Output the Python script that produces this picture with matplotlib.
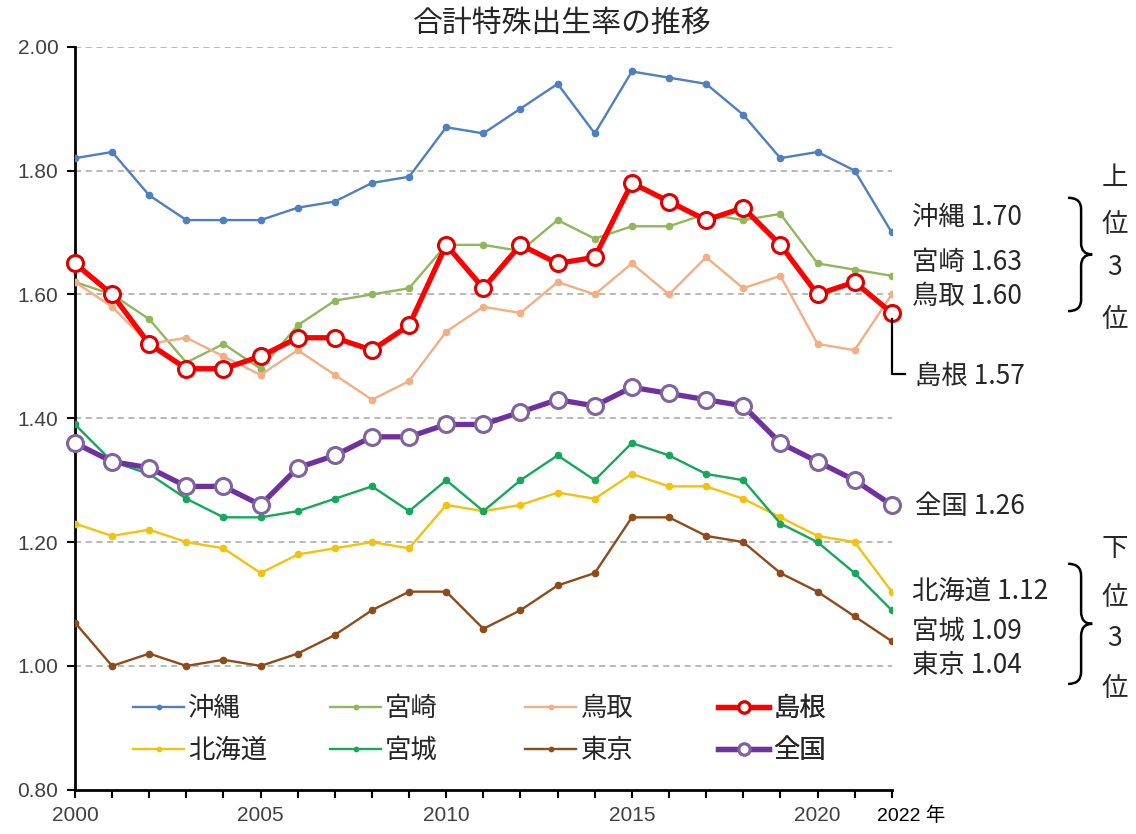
#!/usr/bin/env python3
"""合計特殊出生率の推移 (2000-2022): 上位3県・下位3都道府県・島根・全国"""

import numpy as np
import matplotlib
matplotlib.use("Agg")
import matplotlib.pyplot as plt
from matplotlib.path import Path
from matplotlib.patches import PathPatch

plt.rcParams["font.family"] = ["Noto Sans CJK JP", "DejaVu Sans"]

# --- data ---------------------------------------------------------------------------------------
YEARS = list(range(2000, 2023))

OKINAWA = [1.82, 1.83, 1.76, 1.72, 1.72, 1.72, 1.74, 1.75, 1.78, 1.79, 1.87, 1.86,
           1.90, 1.94, 1.86, 1.96, 1.95, 1.94, 1.89, 1.82, 1.83, 1.80, 1.70]
MIYAZAKI = [1.62, 1.60, 1.56, 1.49, 1.52, 1.48, 1.55, 1.59, 1.60, 1.61, 1.68, 1.68,
            1.67, 1.72, 1.69, 1.71, 1.71, 1.73, 1.72, 1.73, 1.65, 1.64, 1.63]
TOTTORI = [1.62, 1.58, 1.52, 1.53, 1.50, 1.47, 1.51, 1.47, 1.43, 1.46, 1.54, 1.58,
           1.57, 1.62, 1.60, 1.65, 1.60, 1.66, 1.61, 1.63, 1.52, 1.51, 1.60]
SHIMANE = [1.65, 1.60, 1.52, 1.48, 1.48, 1.50, 1.53, 1.53, 1.51, 1.55, 1.68, 1.61,
           1.68, 1.65, 1.66, 1.78, 1.75, 1.72, 1.74, 1.68, 1.60, 1.62, 1.57]
HOKKAIDO = [1.23, 1.21, 1.22, 1.20, 1.19, 1.15, 1.18, 1.19, 1.20, 1.19, 1.26, 1.25,
            1.26, 1.28, 1.27, 1.31, 1.29, 1.29, 1.27, 1.24, 1.21, 1.20, 1.12]
MIYAGI = [1.39, 1.33, 1.31, 1.27, 1.24, 1.24, 1.25, 1.27, 1.29, 1.25, 1.30, 1.25,
          1.30, 1.34, 1.30, 1.36, 1.34, 1.31, 1.30, 1.23, 1.20, 1.15, 1.09]
TOKYO = [1.07, 1.00, 1.02, 1.00, 1.01, 1.00, 1.02, 1.05, 1.09, 1.12, 1.12, 1.06,
         1.09, 1.13, 1.15, 1.24, 1.24, 1.21, 1.20, 1.15, 1.12, 1.08, 1.04]
NATIONAL = [1.36, 1.33, 1.32, 1.29, 1.29, 1.26, 1.32, 1.34, 1.37, 1.37, 1.39, 1.39,
            1.41, 1.43, 1.42, 1.45, 1.44, 1.43, 1.42, 1.36, 1.33, 1.30, 1.26]

# label, values, colour
THIN = [("沖縄", OKINAWA, "#4E7FC0"), ("宮崎", MIYAZAKI, "#8FB85A"),
        ("鳥取", TOTTORI, "#F4AE84"), ("北海道", HOKKAIDO, "#F2C20F"),
        ("宮城", MIYAGI, "#16A85A"), ("東京", TOKYO, "#8E4C1A")]
# label, values, line colour, marker edge
THICK = [("全国", NATIONAL, "#7030A0", "#8064A2"), ("島根", SHIMANE, "#FF0000", "#E00000")]

TOP3 = [("沖縄 1.70", 1.724), ("宮崎 1.63", 1.652), ("鳥取 1.60", 1.597)]
BOTTOM3 = [("北海道 1.12", 1.121), ("宮城 1.09", 1.056), ("東京 1.04", 1.000)]
# legend columns (top, bottom) and their left edge in axes fraction
LEGEND_COLS = [(("沖縄", "北海道"), 0.071), (("宮崎", "宮城"), 0.312),
               (("鳥取", "東京"), 0.551), (("島根", "全国"), 0.787)]

TICK_FONT = "Liberation Sans"
TICK_COL = "#404040"
TEXT_COL = "#262626"


def brace(ax, x, y0, y1, w=0.35, tip=0.3):
    """right-pointing curly brace in data coords, outside the axes"""
    ym = (y0 + y1) / 2
    dy = (y1 - y0) * 0.1
    verts = [(x, y1), (x + w, y1), (x + w, y1 - dy),
             (x + w, ym + dy),
             (x + w, ym), (x + w + tip, ym),
             (x + w, ym), (x + w, ym - dy),
             (x + w, y0 + dy),
             (x + w, y0), (x, y0)]
    codes = [Path.MOVETO, Path.CURVE3, Path.CURVE3, Path.LINETO,
             Path.CURVE3, Path.CURVE3, Path.CURVE3, Path.CURVE3,
             Path.LINETO, Path.CURVE3, Path.CURVE3]
    ax.add_patch(PathPatch(Path(verts, codes), fc="none", ec="black",
                           lw=1.8, clip_on=False))


def main():
    fig = plt.figure(figsize=(11.36, 8.34), dpi=100)
    ax = fig.add_axes([0.066, 0.053, 0.719, 0.891])

    handles = {}
    for label, vals, col in THIN:
        h, = ax.plot(YEARS, vals, color=col, lw=1.7, marker="o", ms=4.5,
                     label=label, zorder=3)
        handles[label] = h
    for label, vals, col, mec in THICK:
        h, = ax.plot(YEARS, vals, color=col, lw=3.8, marker="o", ms=11.5,
                     mfc="white", mec=mec, mew=2.2, label=label, zorder=4,
                     clip_on=False)
        handles[label] = h

    ax.set_xlim(2000, 2022)
    ax.set_ylim(0.80, 2.00)
    ax.set_yticks(np.arange(0.8, 2.01, 0.2))
    ax.set_yticklabels([f"{v:.2f}" for v in np.arange(0.8, 2.01, 0.2)],
                       family=TICK_FONT, fontsize=15, color=TICK_COL)
    ax.set_xticks(YEARS)
    ax.set_xticklabels([str(y) if (y % 5 == 0 and y != YEARS[-1]) else "" for y in YEARS],
                       family=TICK_FONT, fontsize=15, color=TICK_COL)
    ax.annotate(f"{YEARS[-1]} 年", xy=(YEARS[-1], 0), xycoords=("data", "axes fraction"),
                xytext=(-15, -17), textcoords="offset pixels", ha="left", va="top",
                family=["Liberation Sans", "Noto Sans CJK JP"], fontsize=14,
                color="black", annotation_clip=False)
    ax.tick_params(axis="both", direction="out", length=6, width=1.5, color="black")
    ax.tick_params(axis="x", pad=6)
    ax.tick_params(axis="y", pad=6)

    for s in ("top", "right"):
        ax.spines[s].set_visible(False)
    for s in ("left", "bottom"):
        ax.spines[s].set_linewidth(2)
        ax.spines[s].set_color("black")

    for yv in np.arange(1.0, 2.01, 0.2):
        ax.axhline(yv, color="#A6A6A6", lw=1.1, ls=(0, (4, 3)), zorder=1)

    # legend: one small legend per column so the columns sit where the original has them
    for labels, x0 in LEGEND_COLS:
        leg = ax.legend([handles[k] for k in labels], labels, loc="center left",
                        bbox_to_anchor=(x0, 0.081), frameon=False, fontsize=19,
                        handlelength=1.95, handletextpad=0.15, labelspacing=0.55,
                        borderpad=0, borderaxespad=0, markerscale=0.7)
        for t in leg.get_texts():
            t.set_color(TEXT_COL)
        ax.add_artist(leg)

    # right-hand annotations
    tx = 2022.54
    for txt, y in TOP3 + BOTTOM3:
        ax.text(tx, y, txt, fontsize=19, va="center", ha="left", clip_on=False,
                color=TEXT_COL)
    ax.text(tx + 0.08, 1.468, "島根 1.57", fontsize=19, va="center", ha="left",
            clip_on=False, color=TEXT_COL)
    ax.text(tx + 0.08, 1.258, "全国 1.26", fontsize=19, va="center", ha="left",
            clip_on=False, color=TEXT_COL)
    ax.plot([2022, 2022, 2022.35], [SHIMANE[-1] - 0.01, 1.471, 1.471], color="black",
            lw=1.6, clip_on=False, zorder=5)

    brace(ax, 2026.75, 1.573, 1.756)
    brace(ax, 2026.75, 0.971, 1.165)
    for chars, ys in [("上位3位", (1.789, 1.713, 1.644, 1.560)),
                      ("下位3位", (1.189, 1.111, 1.044, 0.963))]:
        for c, y in zip(chars, ys):
            ax.text(2028.0, y, c, fontsize=19, ha="center", va="center",
                    clip_on=False, color=TEXT_COL)

    fig.text(0.495, 0.972, "合計特殊出生率の推移", fontsize=21.5, ha="center",
             va="center", color=TEXT_COL)

    fig.savefig("out.png", dpi=100, facecolor="white")
    plt.close(fig)


if __name__ == "__main__":
    main()
